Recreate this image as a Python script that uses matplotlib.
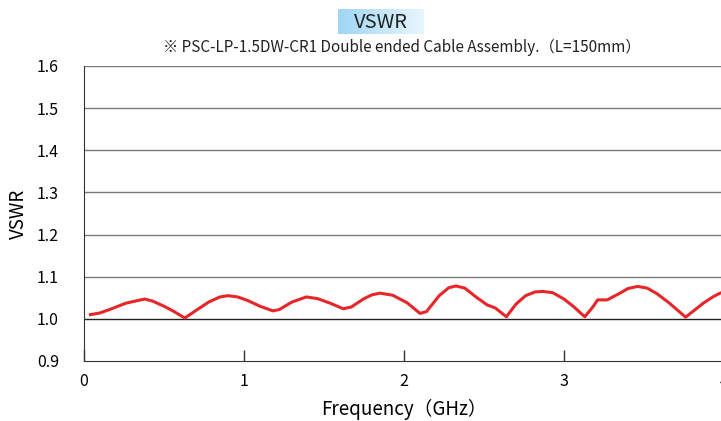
import numpy as np
import matplotlib.pyplot as plt

plt.rcParams['font.family'] = ['Noto Sans CJK JP', 'DejaVu Sans']

# frequency (GHz) and VSWR
freq = [0.04, 0.10, 0.18, 0.26, 0.33, 0.38, 0.43, 0.50, 0.56, 0.63,
        0.70, 0.78, 0.85, 0.90, 0.96, 1.02, 1.10, 1.18, 1.22, 1.30,
        1.39, 1.46, 1.54, 1.62, 1.67, 1.75, 1.80, 1.85, 1.93, 2.02,
        2.10, 2.14, 2.22, 2.28, 2.325, 2.38, 2.45, 2.52, 2.57, 2.64,
        2.70, 2.76, 2.82, 2.87, 2.93, 3.00, 3.06, 3.13, 3.18, 3.21,
        3.27, 3.35, 3.40, 3.46, 3.52, 3.58, 3.66, 3.76, 3.82, 3.87,
        3.93, 3.975, 4.02]
vswr = [1.010, 1.014, 1.025, 1.037, 1.043, 1.047, 1.042, 1.030, 1.018, 1.002,
        1.020, 1.040, 1.052, 1.055, 1.052, 1.044, 1.030, 1.019, 1.022, 1.040,
        1.052, 1.048, 1.037, 1.024, 1.028, 1.048, 1.057, 1.061, 1.056, 1.038,
        1.013, 1.017, 1.055, 1.074, 1.078, 1.073, 1.052, 1.033, 1.026, 1.005,
        1.035, 1.055, 1.064, 1.065, 1.062, 1.047, 1.029, 1.005, 1.028, 1.045,
        1.045, 1.061, 1.072, 1.077, 1.073, 1.060, 1.037, 1.004, 1.022, 1.037,
        1.052, 1.061, 1.066]

yticks = [0.9, 1.0, 1.1, 1.2, 1.3, 1.4, 1.5, 1.6]
xticks = [0, 1, 2, 3, 4]

fig = plt.figure(figsize=(7.21, 4.21), dpi=100)
ax = fig.add_axes([84/721, 1-361/421, 640/721, 295/421])

for y in yticks[1:]:
    ax.axhline(y, color='#222222' if y == 1.0 else '#7a7a7a', lw=1.0, zorder=1)

ax.plot(freq, vswr, color='#e8262a', lw=2.2, zorder=3)

ax.set_xlim(0, 4)
ax.set_ylim(0.9, 1.6)
ax.set_xticks(xticks)
ax.set_yticks(yticks)
ax.set_yticklabels(['%.1f' % v for v in yticks])
ax.tick_params(axis='x', direction='in', length=8, width=1, color='#333333',
               labelsize=11.5, pad=9)
ax.tick_params(axis='y', length=0, labelsize=11.5, pad=18)
for s in ['top', 'right']:
    ax.spines[s].set_visible(False)
ax.spines['left'].set_color('#333333')
ax.spines['bottom'].set_color('#333333')
ax.set_ylabel('VSWR', fontsize=13.5, labelpad=6)
ax.set_xlabel('Frequency（GHz）', fontsize=13.5, labelpad=6)

# title box with a light blue gradient
tax = fig.add_axes([338/721, 1-34/421, 86/721, 25/421])
grad = np.linspace(0, 1, 256).reshape(1, -1)
tax.imshow(grad, aspect='auto', cmap=plt.matplotlib.colors.LinearSegmentedColormap.from_list(
    'g', ['#9fd6f4', '#e8f6fd']), extent=[0, 1, 0, 1])
tax.set_axis_off()
tax.text(0.5, 0.45, 'VSWR', ha='center', va='center', fontsize=14.5, color='#222222')

fig.text(402/721, 1-47/421, '※ PSC-LP-1.5DW-CR1 Double ended Cable Assembly.（L=150mm）',
         ha='center', va='center', fontsize=11, color='#222222')

fig.savefig('out.png', dpi=100)
